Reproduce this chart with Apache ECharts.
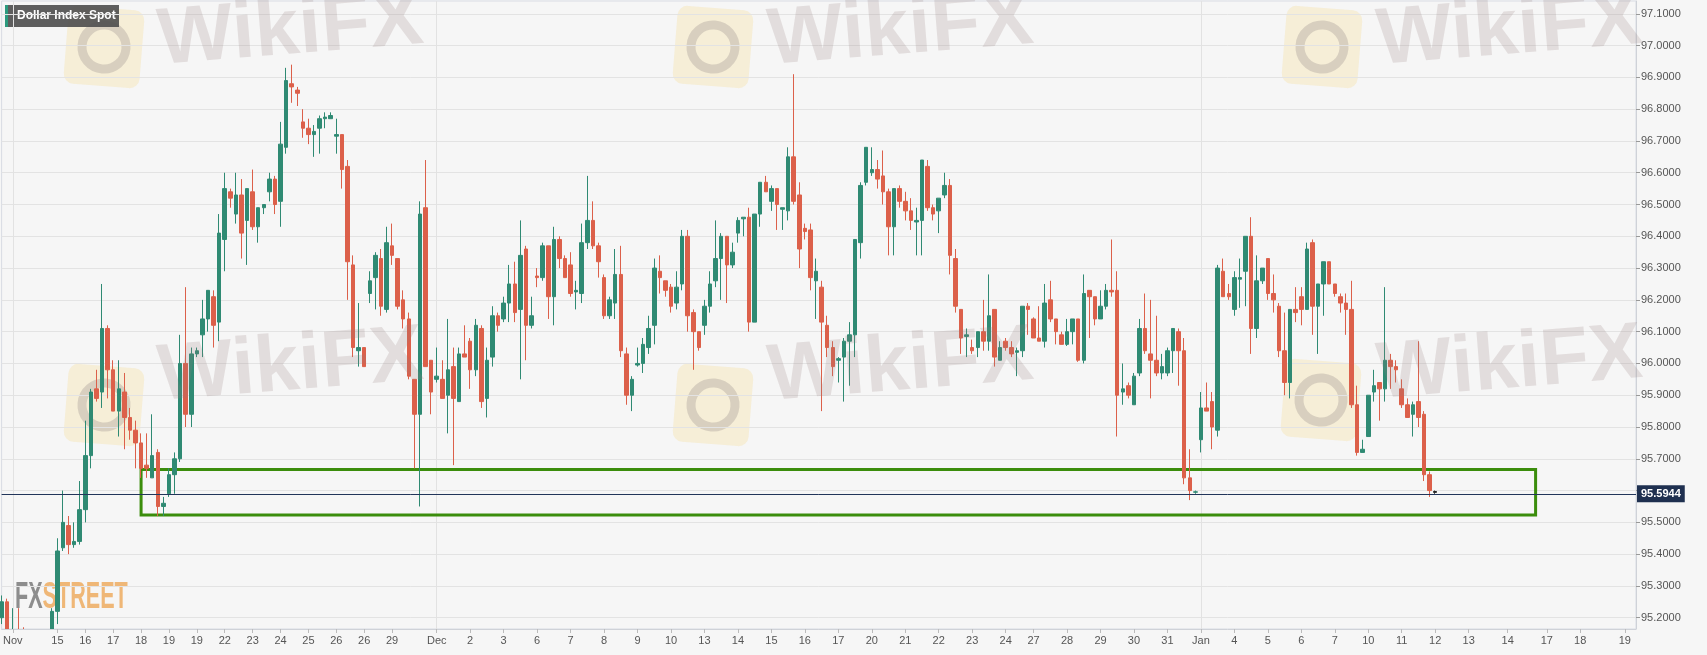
<!DOCTYPE html>
<html>
<head>
<meta charset="utf-8">
<title>Dollar Index Spot</title>
<script src="https://cdn.jsdelivr.net/npm/echarts@6/dist/echarts.min.js"></script>
<style>
  html, body { margin: 0; padding: 0; background: #f6f6f6; }
  #root1 { width: 1707px; height: 655px; }
</style>
</head>
<body>
<div id="root1"></div>
<script>
// 4h candles, one slot each; slots past the data are future dates on the axis
const slotCount = 294;

const opens = [
  95.20, 95.25, 95.08, 95.14, 95.10, 95.08, 95.05, 95.07, 95.10, 95.12,
  95.22, 95.42, 95.49, 95.43, 95.44, 95.54, 95.71, 95.92, 95.91, 96.11,
  95.98, 95.85, 95.91, 95.83, 95.79, 95.75, 95.68, 95.64, 95.72, 95.55,
  95.59, 95.65, 95.70, 96.00, 95.84, 96.03, 96.09, 96.14, 96.21, 96.13,
  96.39, 96.54, 96.47, 96.53, 96.45, 96.54, 96.43, 96.49, 96.54, 96.58,
  96.51, 96.68, 96.88, 96.86, 96.76, 96.74, 96.72, 96.74, 96.77, 96.77,
  96.715, 96.72, 96.62, 96.31, 96.04, 96.05, 96.22, 96.27, 96.33, 96.17,
  96.37, 96.33, 96.20, 96.14, 95.95, 95.84, 96.49, 96.01, 95.95, 95.95,
  95.90, 95.99, 95.88, 96.03, 96.07, 95.98, 96.11, 95.89, 96.02, 96.15,
  96.14, 96.19, 96.25, 96.17, 96.36, 96.12, 96.275, 96.27, 96.37, 96.21,
  96.39, 96.33, 96.31, 96.225, 96.22, 96.38, 96.45, 96.37, 96.27, 96.15,
  96.19, 96.28, 96.03, 95.90, 95.995, 96.00, 96.05, 96.12, 96.29, 96.26,
  96.24, 96.19, 96.25, 96.40, 96.16, 96.10, 96.12, 96.18, 96.26, 96.33,
  96.40, 96.31, 96.41, 96.455, 96.46, 96.13, 96.47, 96.57, 96.51, 96.55,
  96.485, 96.48, 96.65, 96.53, 96.425, 96.42, 96.26, 96.24, 96.12, 96.05,
  96.01, 96.02, 96.07, 96.09, 96.38, 96.57, 96.60, 96.61, 96.59, 96.54,
  96.43, 96.55, 96.51, 96.48, 96.445, 96.45, 96.62, 96.49, 96.48, 96.53,
  96.56, 96.33, 96.17, 96.085, 96.05, 96.05, 96.10, 96.07, 96.17, 96.01,
  96.07, 96.05, 96.035, 96.04, 96.18, 96.14, 96.08, 96.07, 96.20, 96.14,
  96.09, 96.06, 96.10, 96.14, 96.01, 96.23, 96.21, 96.14, 96.18, 96.23,
  96.23, 95.91, 95.93, 95.87, 95.97, 96.11, 96.03, 96.01, 95.97, 95.97,
  96.04, 96.10, 96.04, 95.64, 95.595, 95.76, 95.86, 95.88, 95.79, 96.29,
  96.22, 96.17, 96.265, 96.29, 96.40, 96.11, 96.26, 96.33, 96.22, 96.18,
  96.04, 95.94, 96.17, 96.21, 96.17, 96.38, 96.18, 96.25, 96.32, 96.25,
  96.21, 96.19, 96.17, 95.87, 95.72, 95.77, 95.91, 95.94, 95.92, 96.01,
  95.99, 95.92, 95.87, 95.84, 95.88, 95.84, 95.65, 95.597
];
const closes = [
  95.25, 95.12, 95.14, 95.10, 95.08, 95.05, 95.07, 95.10, 95.12, 95.22,
  95.41, 95.50, 95.43, 95.44, 95.54, 95.71, 95.91, 95.89, 96.11, 95.98,
  95.85, 95.92, 95.83, 95.79, 95.75, 95.67, 95.67, 95.71, 95.55, 95.56,
  95.65, 95.70, 96.00, 95.84, 96.03, 96.04, 96.14, 96.23, 96.12, 96.41,
  96.55, 96.52, 96.53, 96.41, 96.55, 96.43, 96.49, 96.50, 96.58, 96.50,
  96.69, 96.89, 96.87, 96.85, 96.74, 96.72, 96.73, 96.77, 96.775, 96.78,
  96.72, 96.61, 96.32, 96.05, 96.05, 95.99, 96.26, 96.34, 96.18, 96.38,
  96.34, 96.18, 96.14, 95.96, 95.84, 96.47, 95.99, 95.91, 95.96, 95.89,
  95.98, 95.89, 96.03, 96.02, 95.98, 96.12, 95.88, 96.01, 96.15, 96.12,
  96.19, 96.25, 96.16, 96.34, 96.12, 96.15, 96.27, 96.37, 96.21, 96.39,
  96.33, 96.27, 96.22, 96.23, 96.38, 96.45, 96.37, 96.32, 96.15, 96.20,
  96.28, 96.04, 95.90, 95.95, 96.00, 96.06, 96.11, 96.30, 96.27, 96.23,
  96.18, 96.24, 96.40, 96.15, 96.10, 96.05, 96.18, 96.25, 96.33, 96.40,
  96.31, 96.35, 96.45, 96.46, 96.13, 96.47, 96.57, 96.54, 96.55, 96.50,
  96.49, 96.65, 96.51, 96.36, 96.415, 96.27, 96.29, 96.13, 96.05, 95.99,
  96.015, 96.07, 96.09, 96.39, 96.56, 96.68, 96.61, 96.58, 96.54, 96.43,
  96.55, 96.51, 96.48, 96.45, 96.45, 96.64, 96.49, 96.47, 96.52, 96.56,
  96.34, 96.18, 96.08, 96.09, 96.04, 96.10, 96.07, 96.15, 96.02, 96.05,
  96.05, 96.03, 96.04, 96.18, 96.17, 96.08, 96.07, 96.19, 96.14, 96.10,
  96.06, 96.10, 96.14, 96.01, 96.22, 96.21, 96.14, 96.18, 96.23, 96.225,
  95.90, 95.92, 95.90, 95.96, 96.11, 96.04, 96.01, 95.97, 95.99, 96.04,
  96.11, 96.04, 95.64, 95.60, 95.596, 95.86, 95.85, 95.80, 96.30, 96.21,
  96.21, 96.27, 96.27, 96.40, 96.11, 96.26, 96.30, 96.22, 96.20, 96.04,
  95.94, 96.17, 96.16, 96.17, 96.36, 96.18, 96.25, 96.32, 96.25, 96.22,
  96.19, 96.17, 95.87, 95.72, 95.73, 95.90, 95.93, 95.92, 96.01, 95.99,
  95.98, 95.87, 95.83, 95.87, 95.83, 95.65, 95.60, 95.5944
];
const lows = [
  95.18, 95.10, 95.05, 95.06, 95.05, 95.02, 95.01, 95.04, 95.07, 95.10,
  95.18, 95.41, 95.40, 95.42, 95.43, 95.50, 95.67, 95.88, 95.86, 95.89,
  95.85, 95.77, 95.73, 95.76, 95.67, 95.64, 95.64, 95.64, 95.52, 95.52,
  95.58, 95.59, 95.69, 95.80, 95.80, 96.02, 96.02, 96.10, 96.05, 96.07,
  96.29, 96.49, 96.44, 96.33, 96.31, 96.42, 96.38, 96.47, 96.51, 96.47,
  96.43, 96.66, 96.82, 96.81, 96.71, 96.69, 96.65, 96.66, 96.74, 96.77,
  96.66, 96.55, 96.20, 96.02, 95.99, 95.99, 96.19, 96.17, 96.15, 96.16,
  96.31, 96.17, 96.11, 95.95, 95.67, 95.55, 95.99, 95.84, 95.94, 95.89,
  95.78, 95.68, 95.88, 96.02, 95.92, 95.96, 95.86, 95.83, 95.99, 96.10,
  96.13, 96.13, 96.13, 95.95, 96.01, 96.11, 96.24, 96.26, 96.14, 96.12,
  96.30, 96.27, 96.21, 96.17, 96.19, 96.36, 96.36, 96.27, 96.14, 96.14,
  96.14, 96.02, 95.87, 95.85, 95.99, 95.97, 96.03, 96.06, 96.22, 96.21,
  96.16, 96.17, 96.23, 96.10, 95.98, 96.04, 96.09, 96.16, 96.24, 96.20,
  96.19, 96.30, 96.38, 96.40, 96.10, 96.13, 96.43, 96.54, 96.48, 96.42,
  96.42, 96.45, 96.50, 96.30, 96.39, 96.23, 96.14, 95.85, 96.02, 95.96,
  95.94, 95.88, 95.93, 96.02, 96.33, 96.56, 96.59, 96.55, 96.50, 96.34,
  96.34, 96.49, 96.45, 96.42, 96.34, 96.34, 96.48, 96.45, 96.41, 96.52,
  96.28, 96.16, 96.03, 96.02, 96.03, 96.02, 96.04, 96.04, 95.99, 96.01,
  96.04, 96.02, 95.96, 96.02, 96.09, 96.08, 96.07, 96.05, 96.13, 96.06,
  96.06, 96.055, 96.06, 96.005, 96.00, 96.08, 96.12, 96.14, 96.17, 96.21,
  95.77, 95.87, 95.89, 95.87, 95.96, 96.03, 95.89, 95.96, 95.95, 95.96,
  95.97, 95.93, 95.62, 95.57, 95.59, 95.72, 95.85, 95.73, 95.77, 96.21,
  96.20, 96.15, 96.175, 96.18, 96.03, 96.08, 96.25, 96.20, 96.16, 96.02,
  95.90, 95.89, 96.13, 96.12, 96.17, 96.09, 96.03, 96.15, 96.25, 96.21,
  96.16, 96.09, 95.86, 95.71, 95.72, 95.77, 95.88, 95.82, 95.88, 95.92,
  95.94, 95.86, 95.83, 95.77, 95.80, 95.63, 95.58, 95.59
];
const highs = [
  95.27, 95.26, 95.23, 95.23, 95.17, 95.12, 95.10, 95.14, 95.15, 95.23,
  95.45, 95.60, 95.52, 95.50, 95.63, 95.82, 95.92, 95.98, 96.25, 96.12,
  96.01, 96.01, 95.97, 95.86, 95.82, 95.78, 95.78, 95.84, 95.73, 95.58,
  95.67, 95.72, 96.09, 96.24, 96.05, 96.05, 96.20, 96.23, 96.23, 96.47,
  96.60, 96.55, 96.60, 96.58, 96.55, 96.61, 96.49, 96.50, 96.60, 96.59,
  96.76, 96.93, 96.94, 96.87, 96.80, 96.77, 96.75, 96.78, 96.79, 96.79,
  96.77, 96.72, 96.64, 96.34, 96.19, 96.05, 96.29, 96.35, 96.36, 96.43,
  96.44, 96.33, 96.23, 96.16, 95.95, 96.51, 96.64, 96.01, 96.05, 96.01,
  96.14, 96.05, 96.05, 96.12, 96.08, 96.14, 96.12, 96.05, 96.18, 96.16,
  96.21, 96.31, 96.32, 96.45, 96.37, 96.21, 96.30, 96.38, 96.37, 96.43,
  96.40, 96.34, 96.35, 96.26, 96.44, 96.59, 96.51, 96.38, 96.28, 96.21,
  96.36, 96.37, 96.05, 95.96, 96.05, 96.08, 96.15, 96.33, 96.34, 96.26,
  96.25, 96.29, 96.42, 96.42, 96.17, 96.10, 96.20, 96.29, 96.45, 96.41,
  96.40, 96.38, 96.46, 96.46, 96.49, 96.47, 96.57, 96.59, 96.56, 96.55,
  96.49, 96.68, 96.91, 96.57, 96.44, 96.44, 96.33, 96.26, 96.15, 96.07,
  96.02, 96.08, 96.13, 96.39, 96.57, 96.68, 96.68, 96.64, 96.67, 96.55,
  96.55, 96.56, 96.54, 96.52, 96.49, 96.64, 96.64, 96.50, 96.52, 96.60,
  96.58, 96.36, 96.17, 96.11, 96.075, 96.10, 96.20, 96.28, 96.17, 96.07,
  96.08, 96.07, 96.05, 96.18, 96.19, 96.145, 96.18, 96.25, 96.26, 96.14,
  96.10, 96.14, 96.14, 96.14, 96.28, 96.23, 96.21, 96.23, 96.25, 96.39,
  96.29, 96.00, 95.94, 95.97, 96.14, 96.22, 96.20, 96.15, 96.03, 96.05,
  96.11, 96.11, 96.08, 95.73, 95.60, 95.91, 95.94, 95.91, 96.31, 96.33,
  96.25, 96.29, 96.33, 96.40, 96.46, 96.34, 96.30, 96.33, 96.28, 96.19,
  96.16, 96.17, 96.24, 96.24, 96.38, 96.39, 96.25, 96.32, 96.32, 96.25,
  96.22, 96.22, 96.26, 95.93, 95.76, 95.90, 95.98, 95.94, 96.24, 96.03,
  96.01, 95.95, 95.89, 95.88, 96.07, 95.85, 95.66, 95.60
];

const lastPrice = 95.5944;

// date labels and the candle slot each one sits on
const tickIdx = [2, 10, 15, 20, 25, 30, 35, 40, 45, 50, 55, 60, 65, 70, 78, 84, 90, 96, 102, 108,
  114, 120, 126, 132, 138, 144, 150, 156, 162, 168, 174, 180, 185, 191, 197, 203, 209, 215, 221, 227,
  233, 239, 245, 251, 257, 263, 270, 277, 283, 291];
const tickText = ['Nov', '15', '16', '17', '18', '19', '19', '22', '23', '24', '25', '26', '26', '29', 'Dec', '2', '3', '6', '7', '8',
  '9', '10', '13', '14', '15', '16', '17', '20', '21', '22', '23', '24', '27', '28', '29', '30', '31', 'Jan', '4', '5',
  '6', '7', '10', '11', '12', '13', '14', '17', '18', '19'];

const priceTicks = [95.2, 95.3, 95.4, 95.5, 95.6, 95.7, 95.8, 95.9, 96.0, 96.1,
  96.2, 96.3, 96.4, 96.5, 96.6, 96.7, 96.8, 96.9, 97.0, 97.1];

// support zone drawn on the chart
const zoneFrom = 25, zoneTo = 275, zoneTop = 95.666, zoneBottom = 95.523;

const categories = Array.from({ length: slotCount }, (_, i) => String(i));
const labelAt = {};
tickIdx.forEach((idx, k) => { labelAt[idx] = tickText[k]; });
const monthIdx = tickIdx.filter((idx, k) => isNaN(Number(tickText[k])));

const candleData = opens.map((o, i) => {
  const v = [o, closes[i], lows[i], highs[i]];
  if (i === opens.length - 1) {
    return { value: v, itemStyle: { color: '#222', color0: '#222', borderColor: '#222', borderColor0: '#222' } };
  }
  return v;
});

const axisFont = '"Liberation Sans Narrow", "Arial Narrow", "Liberation Sans", sans-serif';

function wikiLogo(cx, cy) {
  return {
    type: 'group', x: cx, y: cy, rotation: -0.08, z: 50, silent: true,
    children: [
      { type: 'rect', shape: { x: -38, y: -39, width: 76, height: 78, r: 10 }, style: { fill: 'rgba(246,222,150,0.32)' } },
      { type: 'circle', shape: { cx: 0, cy: 0, r: 22 }, style: { fill: 'none', stroke: 'rgba(140,130,130,0.28)', lineWidth: 9 } }
    ]
  };
}
function wikiText(x, y) {
  return {
    type: 'text', x: x, y: y, rotation: 0.08, z: 50, silent: true,
    style: { text: 'WikiFX', font: 'bold 80px "Liberation Sans", sans-serif', fill: 'rgba(150,125,125,0.2)', textVerticalAlign: 'middle' }
  };
}

const chartDom = document.getElementById('root1');
const myChart = echarts.init(chartDom);

const option = {
  animation: false,
  backgroundColor: '#f6f6f6',
  grid: {
    left: 0, right: 71, top: 1, bottom: 26,
    show: true, backgroundColor: '#f6f6f6', borderColor: '#d9dce4', borderWidth: 1
  },
  xAxis: [
    {
      // date axis, drawn above the cover strip
      type: 'category',
      data: categories,
      boundaryGap: false,
      z: 10,
      axisLine: { lineStyle: { color: '#cfd2d8' } },
      axisTick: { interval: (i) => labelAt[i] !== undefined, length: 4, lineStyle: { color: '#bbb' } },
      axisLabel: {
        interval: (i) => labelAt[i] !== undefined,
        formatter: (v, i) => labelAt[i] || '',
        color: '#555', fontSize: 11, fontFamily: axisFont, margin: 6
      },
      splitLine: { show: false }
    },
    {
      // month separators, behind the candles
      type: 'category',
      data: categories,
      boundaryGap: false,
      position: 'top',
      axisLine: { show: false },
      axisTick: { show: false },
      axisLabel: { show: false },
      splitLine: { show: true, interval: (i) => monthIdx.includes(i), lineStyle: { color: '#e2e2e2' } }
    }
  ],
  yAxis: {
    type: 'value',
    position: 'right',
    min: 95.1645,
    max: 97.1403,
    axisLine: { show: true, lineStyle: { color: '#cfd2d8' } },
    axisTick: { show: true, length: 4, customValues: priceTicks, lineStyle: { color: '#999' } },
    axisLabel: {
      customValues: priceTicks,
      formatter: (v) => v.toFixed(4),
      color: '#555', fontSize: 11, fontFamily: axisFont, margin: 5
    },
    splitLine: { show: true, lineStyle: { color: '#e3e3e3' } }
  },
  series: [
    {
      type: 'candlestick',
      data: candleData,
      clip: true,
      barWidth: 4,
      itemStyle: {
        color: '#2f8a73', color0: '#dc604a',
        borderColor: '#2f8a73', borderColor0: '#dc604a', borderWidth: 1
      },
      markLine: {
        silent: true,
        symbol: 'none',
        lineStyle: { color: '#22355a', width: 1, type: 'solid' },
        label: {
          position: 'end', distance: 1,
          formatter: () => lastPrice.toFixed(4),
          backgroundColor: '#1f3050', color: '#fff', fontWeight: 'bold',
          fontSize: 11, fontFamily: axisFont, padding: [3, 4]
        },
        data: [{ yAxis: lastPrice }]
      },
      markArea: {
        silent: true,
        itemStyle: { color: 'rgba(0,0,0,0)', borderColor: '#3b8d0c', borderWidth: 3 },
        data: [[{ xAxis: zoneFrom, yAxis: zoneTop }, { xAxis: zoneTo, yAxis: zoneBottom }]]
      }
    }
  ],
  graphic: [
    wikiLogo(104, 47), wikiText(158, 42),
    wikiLogo(713, 47), wikiText(768, 42),
    wikiLogo(1322, 47), wikiText(1377, 42),
    wikiLogo(104, 405), wikiText(158, 378),
    wikiLogo(713, 405), wikiText(768, 378),
    wikiLogo(1321, 400), wikiText(1377, 376),
    // hides the part of the early candles that falls below the axis
    { type: 'rect', z: 5, silent: true, shape: { x: 0, y: 629.5, width: 1640, height: 26 }, style: { fill: '#f6f6f6' } },
    {
      type: 'group', x: 15, y: 580, scaleX: 0.6, z: 40, silent: true,
      children: [
        { type: 'text', x: 0, y: 0, style: { text: 'FX', font: 'bold 36px "Liberation Sans", sans-serif', fill: 'rgba(130,130,130,0.9)' } },
        { type: 'text', x: 46, y: 0, style: { text: 'STREET', font: 'bold 36px "Liberation Sans", sans-serif', fill: 'rgba(238,176,105,0.9)' } }
      ]
    },
    {
      type: 'group', x: 5, y: 5, z: 60,
      children: [
        { type: 'rect', shape: { x: 0, y: 0, width: 114, height: 22 }, style: { fill: 'rgba(80,80,80,0.92)' } },
        { type: 'rect', shape: { x: 0, y: 0, width: 3, height: 22 }, style: { fill: '#2c9a7e' } },
        { type: 'text', x: 12, y: 11, style: { text: 'Dollar Index Spot', font: 'bold 12px "Liberation Sans", sans-serif', fill: '#fff', textVerticalAlign: 'middle' } }
      ]
    }
  ]
};

myChart.setOption(option);
</script>
</body>
</html>
